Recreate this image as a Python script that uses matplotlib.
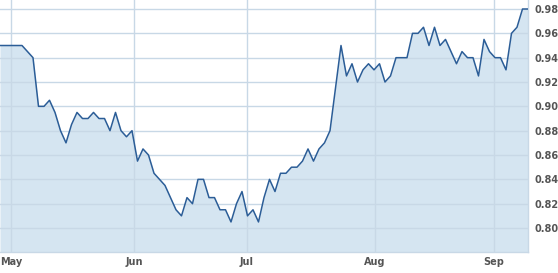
import matplotlib
matplotlib.use("Agg")
import matplotlib.pyplot as plt

values = [0.95, 0.95, 0.95, 0.95, 0.95, 0.945, 0.94, 0.90, 0.90, 0.905,
          0.895, 0.88, 0.87, 0.885, 0.895, 0.89, 0.89, 0.895, 0.89, 0.89,
          0.88, 0.895, 0.88, 0.875, 0.88, 0.855, 0.865, 0.86, 0.845, 0.84,
          0.835, 0.825, 0.815, 0.81, 0.825, 0.82, 0.84, 0.84, 0.825, 0.825,
          0.815, 0.815, 0.805, 0.82, 0.83, 0.81, 0.815, 0.805, 0.825, 0.84,
          0.83, 0.845, 0.845, 0.85, 0.85, 0.855, 0.865, 0.855, 0.865, 0.87,
          0.88, 0.915, 0.95, 0.925, 0.935, 0.92, 0.93, 0.935, 0.93, 0.935,
          0.92, 0.925, 0.94, 0.94, 0.94, 0.96, 0.96, 0.965, 0.95, 0.965,
          0.95, 0.955, 0.945, 0.935, 0.945, 0.94, 0.94, 0.925, 0.955, 0.945,
          0.94, 0.94, 0.93, 0.96, 0.965, 0.98, 0.98]
month_labels = ["May", "Jun", "Jul", "Aug", "Sep"]
month_pos = [2.0, 24.4, 44.9, 68.1, 89.8]
y_ticks = [0.80, 0.82, 0.84, 0.86, 0.88, 0.90, 0.92, 0.94, 0.96, 0.98]

x = list(range(len(values)))
ymin, ymax = 0.7803, 0.9874

fig = plt.figure(figsize=(5.58, 2.73), dpi=100)
ax = fig.add_axes([0, 21 / 273, 528 / 558, 252 / 273])

grid_c = "#c8d8e6"
ax.fill_between(x, values, ymin, color="#d5e5f1", zorder=1, linewidth=0)
ax.plot(x, values, color="#2b5d97", linewidth=1.1, zorder=3)

ax.set_xlim(0, len(values) - 1)
ax.set_ylim(ymin, ymax)
ax.set_xticks(month_pos)
ax.set_xticklabels(month_labels)
ax.set_yticks(y_ticks)
ax.set_yticklabels([f"{v:.2f}" for v in y_ticks])
ax.yaxis.tick_right()
ax.tick_params(axis="both", length=0, colors="#555555", labelsize=7)
ax.tick_params(axis="x", pad=3.5)
ax.tick_params(axis="y", pad=5)
for lab in ax.get_xticklabels() + ax.get_yticklabels():
    lab.set_fontweight("bold")
ax.grid(True, color=grid_c, linewidth=1.0, zorder=2)
ax.set_axisbelow(False)
for s in ["top", "left"]:
    ax.spines[s].set_visible(False)
for s in ["right", "bottom"]:
    ax.spines[s].set_color(grid_c)
    ax.spines[s].set_linewidth(1.0)

fig.savefig("out.png", dpi=100)
